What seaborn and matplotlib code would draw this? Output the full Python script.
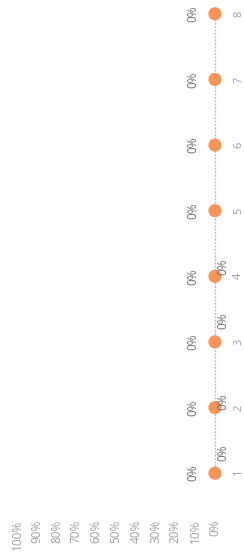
import matplotlib
matplotlib.use("Agg")
import matplotlib.pyplot as plt
import seaborn as sns
import pandas as pd

categories = [1, 2, 3, 4, 5, 6, 7, 8]
orange_values = [0, 0, 0, 0, 0, 0, 0, 0]
pink_values = [0, 0, 0, 0, 0, 0, 0, 0]
pink_labels = ["0%", "0%", "0%", "0%", "", "", "", ""]
pct_ticks = [0, 0.1, 0.2, 0.3, 0.4, 0.5, 0.6, 0.7, 0.8, 0.9, 1.0]

# layout-only offsets (points) for the pink series labels
pink_label_dy = [15, 4, 15, 7, 0, 0, 0, 0]

sns.set_theme(style="white")
plt.rcParams['font.family'] = ['Open Sans', 'DejaVu Sans']

fig = plt.figure(figsize=(2.44, 5.58), dpi=100)
ax = fig.add_axes([17/244, 52/558, 198/244, 506/558])

df_o = pd.DataFrame({"cat": categories, "val": orange_values})
df_p = pd.DataFrame({"cat": categories, "val": pink_values})

sns.lineplot(data=df_p, x="val", y="cat", orient="y", ax=ax, color="#F39AB8",
             linewidth=0.9, linestyle=(0, (1.5, 1.2)), zorder=2, clip_on=False)
sns.scatterplot(data=df_o, x="val", y="cat", ax=ax, color="#F7945A", s=90,
                edgecolor="none", zorder=3, clip_on=False)

ax.set_xlim(1.0, 0.0)
ax.set_ylim(0.5, 8.21)
ax.set_xticks(pct_ticks)
ax.set_xticklabels([f"{int(round(t*100))}%" for t in pct_ticks], rotation=90,
                   fontsize=8.5, color="#A0A0A0")
ax.yaxis.tick_right()
ax.set_yticks(categories)
ax.set_yticklabels([str(c) for c in categories], rotation=90, fontsize=8,
                   color="#A0A0A0", va="center")
ax.tick_params(axis="x", length=0, pad=10)
ax.tick_params(axis="y", length=0, pad=13)
ax.set_xlabel("")
ax.set_ylabel("")
for s in ax.spines.values():
    s.set_visible(False)

for c, v in zip(categories, orange_values):
    ax.annotate(f"{v:.0%}", (v, c), xytext=(-16, 0), textcoords="offset points",
                rotation=90, ha="center", va="center", fontsize=8.5, color="#707070")
for c, v, lab, dy in zip(categories, pink_values, pink_labels, pink_label_dy):
    if lab:
        ax.annotate(lab, (v, c), xytext=(6, dy), textcoords="offset points",
                    rotation=90, ha="center", va="center", fontsize=8.5, color="#707070")

fig.savefig("out.png", dpi=100)
